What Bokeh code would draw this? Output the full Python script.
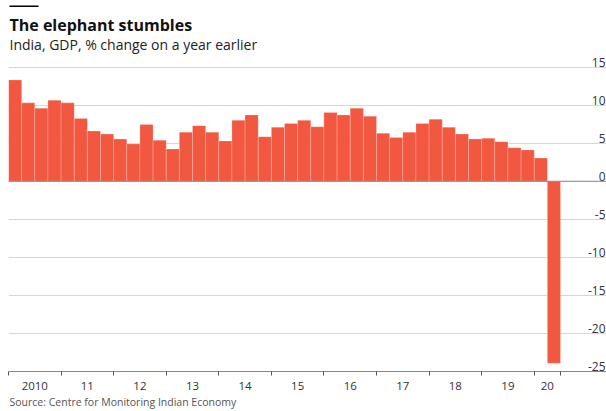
from bokeh.plotting import figure
from bokeh.models import FixedTicker, Label, Span, BoxAnnotation, ColumnDataSource, Title
from bokeh.core.properties import value
from bokeh.embed import file_html
from bokeh.resources import INLINE

# ---- data ----
years = ["2010", "11", "12", "13", "14", "15", "16", "17", "18", "19", "20"]
gdp_growth = [
    13.3, 10.3, 9.6, 10.65,
    10.3, 8.25, 6.6, 6.2,
    5.55, 4.9, 7.45, 5.4,
    4.25, 6.45, 7.3, 6.45,
    5.3, 8.0, 8.7, 5.85,
    7.1, 7.6, 8.0, 7.15,
    9.05, 8.7, 9.6, 8.55,
    6.3, 5.75, 6.45, 7.6,
    8.15, 7.1, 6.2, 5.55,
    5.65, 5.2, 4.4, 4.1,
    3.05, -23.9,
]
y_ticks = [15, 10, 5, 0, -5, -10, -15, -20, -25]

title = "The elephant stumbles"
subtitle = "India, GDP, % change on a year earlier"
source = "Source: Centre for Monitoring Indian Economy"

FONT = "Open Sans"
BAR = "#f2573f"

W, H = 606, 411
LEFT, BOTTOM = 8, 40
AXIS_Y = 371          # canvas y of the x-axis line (-25)
PXQ = 13.143
PXU = 7.61
n = len(gdp_growth)
x_end = (W - LEFT) / PXQ
y_end = -25 + AXIS_Y / PXU   # frame reaches the top of the canvas

p = figure(width=W, height=H, output_backend="svg", toolbar_location=None,
           x_range=(0, x_end), y_range=(-25, y_end),
           min_border_left=LEFT, min_border_right=0, min_border_top=0,
           min_border_bottom=BOTTOM, outline_line_color=None)
p.background_fill_color = "white"
p.border_fill_color = "white"

p.yaxis.visible = False
p.xgrid.visible = False
p.ygrid.ticker = FixedTicker(ticks=y_ticks)
p.ygrid.grid_line_color = "#d6d6d6"
p.ygrid.grid_line_width = 1

# bars
src = ColumnDataSource(dict(x=[i + 0.5 for i in range(n)], top=gdp_growth))
p.vbar(x="x", top="top", bottom=0, width=1, source=src, fill_color=BAR,
       line_color="white", line_alpha=0.35, line_width=0.6)

# zero line
p.add_layout(Span(location=0, dimension="width", line_color="#8a8a8a", line_width=1))

# y labels, right aligned, sitting above gridlines
label_x = (605 - LEFT) / PXQ
p.text(x=[label_x] * len(y_ticks), y=y_ticks, text=[str(t) for t in y_ticks],
       text_align="right", text_baseline="alphabetic", y_offset=-5,
       text_font=value(FONT), text_font_size="12px", text_color="#333333")

# x axis: labels at mid-year, ticks at year boundaries
bounds = list(range(0, n, 4)) + [n]
mids = [(bounds[i] + bounds[i + 1]) / 2 for i in range(len(bounds) - 1)]
p.xaxis.ticker = FixedTicker(ticks=mids, minor_ticks=bounds)
p.xaxis.major_label_overrides = {m: y for m, y in zip(mids, years)}
p.xaxis.major_tick_line_color = None
p.xaxis.major_tick_out = 0
p.xaxis.major_tick_in = 0
p.xaxis.minor_tick_line_color = "#555555"
p.xaxis.minor_tick_out = 4
p.xaxis.minor_tick_in = 0
p.xaxis.axis_line_color = "#8a8a8a"
p.xaxis.major_label_text_font = FONT
p.xaxis.major_label_text_font_size = "11.5px"
p.xaxis.major_label_text_color = "#333333"
p.xaxis.major_label_standoff = 6

# header (inside the frame area, canvas coordinates)
p.add_layout(BoxAnnotation(left=9, right=38, top=5, bottom=6.5,
                           left_units="canvas", right_units="canvas",
                           top_units="canvas", bottom_units="canvas",
                           fill_color="black", fill_alpha=1, line_color=None))
p.add_layout(Label(x=9, y=24, x_units="canvas", y_units="canvas", text=title,
                   text_font=FONT, text_font_size="16px", text_font_style="bold",
                   text_color="#111111", text_baseline="alphabetic"))
p.add_layout(Label(x=9, y=44, x_units="canvas", y_units="canvas", text=subtitle,
                   text_font=FONT, text_font_size="14px",
                   text_color="#222222", text_baseline="alphabetic"))

# footer
p.add_layout(Title(text=source, align="left", offset=1, standoff=0,
                   text_font=FONT, text_font_size="10.5px", text_font_style="normal",
                   text_color="#555555"), "below")

open("out.html", "w").write(file_html(p, INLINE))
